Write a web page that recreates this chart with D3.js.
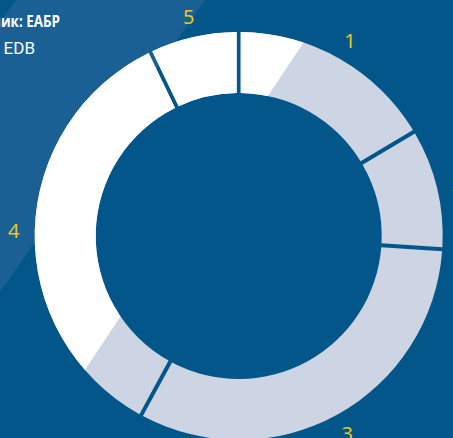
<!DOCTYPE html>
<html><head><meta charset="utf-8">
<script src="https://cdn.jsdelivr.net/npm/d3@7"></script>
<style>html,body{margin:0;padding:0;background:#02568A;overflow:hidden}</style>
</head><body><svg id="c" width="453" height="438"></svg>
<script>
const categories = ["1","2","3","4","5"];
const values = [16.4, 9.4, 32.1, 35.2, 6.9];
const sourceLines = ["Источник: ЕАБР", "Source: EDB"];

const W = 453, H = 438, cx = 238.7, cy = 236, rOut = 204, rIn = 143, rLab = 225;
const svg = d3.select("#c");
svg.append("rect").attr("width", W).attr("height", H).attr("fill", "#02568A");
svg.append("polygon").attr("points", "16,0 205,0 0,292 0,23").attr("fill", "#1B6095");

const data = categories.map((c, i) => ({cat: c, value: values[i]}));
const pie = d3.pie().value(d => d.value).sort(null).padAngle(4 / 190);
const arcs = pie(data);
const arc = d3.arc().innerRadius(rIn).outerRadius(rOut).padRadius(190);

const defs = svg.append("defs");
defs.append("clipPath").attr("id", "wclip").append("polygon").attr("points", "0,0 332,0 0,497");

const g = svg.append("g").attr("transform", `translate(${cx},${cy})`);
g.selectAll("path.base").data(arcs).join("path").attr("class", "base").attr("d", arc).attr("fill", "#CDD4E3");
const gw = svg.append("g").attr("clip-path", "url(#wclip)").append("g").attr("transform", `translate(${cx},${cy})`);
gw.selectAll("path.w").data(arcs).join("path").attr("class", "w").attr("d", arc).attr("fill", "#FFFFFF");

const labArc = d3.arc().innerRadius(rLab).outerRadius(rLab);
g.selectAll("text.lab").data(arcs).join("text").attr("class", "lab")
  .attr("transform", d => `translate(${labArc.centroid(d)})`)
  .attr("text-anchor", "middle").attr("dy", "0.38em")
  .attr("font-family", "Noto Sans, sans-serif").attr("font-size", 20)
  .attr("fill", "#E8C81C").text(d => d.data.cat);

svg.append("text").attr("transform", "translate(60,27) scale(0.84,1)").attr("text-anchor", "end")
  .attr("font-family", "Open Sans, sans-serif").attr("font-weight", "bold")
  .attr("font-size", 16).attr("fill", "#FFFFFF").text(sourceLines[0]);
svg.append("text").attr("x", 35).attr("y", 54).attr("text-anchor", "end")
  .attr("font-family", "Roboto, sans-serif").attr("font-size", 17).attr("fill", "#FFFFFF").text(sourceLines[1]);
</script></body></html>
